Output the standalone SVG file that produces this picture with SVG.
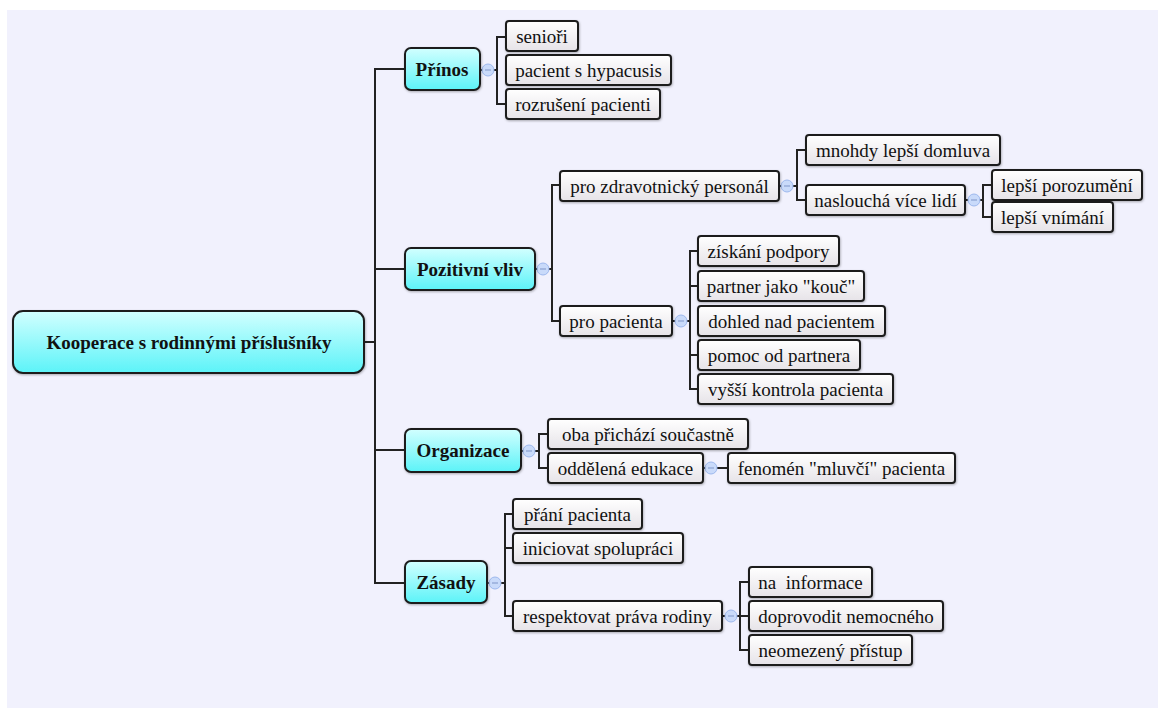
<svg xmlns="http://www.w3.org/2000/svg" width="1159" height="708" viewBox="0 0 1159 708">
  <defs>
    <linearGradient id="gCyan" x1="0" y1="0" x2="0" y2="1">
      <stop offset="0" stop-color="#d2ffff"/>
      <stop offset="1" stop-color="#5cf3f8"/>
    </linearGradient>
    <linearGradient id="gLeaf" x1="0" y1="0" x2="0" y2="1">
      <stop offset="0" stop-color="#ffffff"/>
      <stop offset="1" stop-color="#e6e3e8"/>
    </linearGradient>
    <filter id="sh" x="-10%" y="-20%" width="120%" height="150%">
      <feDropShadow dx="0.6" dy="1" stdDeviation="0.8" flood-color="#000" flood-opacity="0.3"/>
    </filter>
  </defs>
  <style>
    .root rect { fill: url(#gCyan); stroke: #1e1e1e; stroke-width: 2; filter: url(#sh); }
    .main rect { fill: url(#gCyan); stroke: #1e1e1e; stroke-width: 2; filter: url(#sh); }
    .leaf rect { fill: url(#gLeaf); stroke: #1e1e1e; stroke-width: 2; filter: url(#sh); }
    text { font-family: "Liberation Serif", "Times New Roman", serif; font-size: 19px; fill: #111; text-anchor: middle; }
    .root text, .main text { font-weight: bold; }
    .conn path { fill: none; stroke: #222; stroke-width: 2; }
    .tog circle { fill: #c9dafa; stroke: #9db8ee; stroke-width: 1; }
    .tog line { stroke: #7f95c8; stroke-width: 1; }
  </style>

  <!-- canvas -->
  <rect x="0" y="0" width="1159" height="708" fill="#ffffff"/>
  <rect x="7" y="10" width="1151" height="698" fill="#f1f1fd"/>

  <!-- connectors -->
  <g id="connectors" class="conn">
    <!-- root trunk -->
    <path d="M364 342 H375 M405 69 H375 V583 H405 M375 269 H405 M375 450 H405"/>
    <!-- Přínos -->
    <path d="M480 70 H497 M506 37 H497 V104 H506"/>
    <!-- Pozitivní vliv -->
    <path d="M535 269 H552 M560 185 H552 V321 H560"/>
    <!-- pro zdravotnický personál -->
    <path d="M779 186 H797 M806 150 H797 V200 H806"/>
    <!-- naslouchá více lidí -->
    <path d="M965 200 H983 M992 185 H983 V217 H992"/>
    <!-- pro pacienta -->
    <path d="M672 321 H690 M698 251 H690 V389 H698 M690 286 H698 M690 355 H698"/>
    <!-- Organizace -->
    <path d="M521 451 H539 M548 434 H539 V468 H548"/>
    <!-- oddělená edukace -->
    <path d="M703 468 H728"/>
    <!-- Zásady -->
    <path d="M487 583 H505 M513 514 H505 V616 H513 M505 548 H513"/>
    <!-- respektovat práva rodiny -->
    <path d="M722 616 H740 M749 582 H740 V650 H749 M740 616 H749"/>
  </g>

  <!-- collapse toggles -->
  <g id="toggles" class="tog">
    <g><circle cx="488" cy="70" r="6"/><line x1="485" y1="70" x2="491" y2="70"/></g>
    <g><circle cx="543" cy="269" r="6"/><line x1="540" y1="269" x2="546" y2="269"/></g>
    <g><circle cx="787" cy="186" r="6"/><line x1="784" y1="186" x2="790" y2="186"/></g>
    <g><circle cx="974" cy="200" r="6"/><line x1="971" y1="200" x2="977" y2="200"/></g>
    <g><circle cx="681" cy="321" r="6"/><line x1="678" y1="321" x2="684" y2="321"/></g>
    <g><circle cx="529" cy="451" r="6"/><line x1="526" y1="451" x2="532" y2="451"/></g>
    <g><circle cx="711" cy="468" r="6"/><line x1="708" y1="468" x2="714" y2="468"/></g>
    <g><circle cx="495" cy="583" r="6"/><line x1="492" y1="583" x2="498" y2="583"/></g>
    <g><circle cx="731" cy="616" r="6"/><line x1="728" y1="616" x2="734" y2="616"/></g>
  </g>

  <!-- root -->
  <g id="n-root" class="root">
    <rect x="13" y="311" width="351" height="62" rx="10"/>
    <text x="189" y="349">Kooperace s rodinnými příslušníky</text>
  </g>

  <!-- main topics -->
  <g id="n-prinos" class="main">
    <rect x="405" y="48" width="75" height="42" rx="6"/>
    <text x="442" y="76">Přínos</text>
  </g>
  <g id="n-pozitivni" class="main">
    <rect x="405" y="248" width="130" height="42" rx="6"/>
    <text x="470" y="276">Pozitivní vliv</text>
  </g>
  <g id="n-organizace" class="main">
    <rect x="405" y="429" width="116" height="43" rx="6"/>
    <text x="463" y="457">Organizace</text>
  </g>
  <g id="n-zasady" class="main">
    <rect x="405" y="561" width="82" height="42" rx="6"/>
    <text x="446" y="589">Zásady</text>
  </g>

  <!-- Přínos children -->
  <g id="n-seniori" class="leaf">
    <rect x="506" y="21" width="72" height="30" rx="3"/>
    <text x="542" y="43">senioři</text>
  </g>
  <g id="n-hypacusis" class="leaf">
    <rect x="506" y="55" width="165" height="30" rx="3"/>
    <text x="588.5" y="77">pacient s hypacusis</text>
  </g>
  <g id="n-rozruseni" class="leaf">
    <rect x="506" y="89" width="154" height="30" rx="3"/>
    <text x="583" y="111">rozrušení pacienti</text>
  </g>

  <!-- Pozitivní vliv children -->
  <g id="n-personal" class="leaf">
    <rect x="560" y="171" width="219" height="30" rx="3"/>
    <text x="669.5" y="193">pro zdravotnický personál</text>
  </g>
  <g id="n-domluva" class="leaf">
    <rect x="806" y="135" width="194" height="30" rx="3"/>
    <text x="903" y="157">mnohdy lepší domluva</text>
  </g>
  <g id="n-naslouch" class="leaf">
    <rect x="806" y="185" width="159" height="30" rx="3"/>
    <text x="885.5" y="207">naslouchá více lidí</text>
  </g>
  <g id="n-porozumeni" class="leaf">
    <rect x="992" y="170" width="150" height="30" rx="3"/>
    <text x="1067" y="192">lepší porozumění</text>
  </g>
  <g id="n-vnimani" class="leaf">
    <rect x="992" y="202" width="121" height="30" rx="3"/>
    <text x="1052.5" y="224">lepší vnímání</text>
  </g>
  <g id="n-propacienta" class="leaf">
    <rect x="560" y="306" width="112" height="30" rx="3"/>
    <text x="616" y="328">pro pacienta</text>
  </g>
  <g id="n-podpora" class="leaf">
    <rect x="698" y="236" width="141" height="30" rx="3"/>
    <text x="768.5" y="258">získání podpory</text>
  </g>
  <g id="n-kouc" class="leaf">
    <rect x="698" y="271" width="166" height="30" rx="3"/>
    <text x="781" y="293">partner jako "kouč"</text>
  </g>
  <g id="n-dohled" class="leaf">
    <rect x="698" y="306" width="187" height="30" rx="3"/>
    <text x="791.5" y="328">dohled nad pacientem</text>
  </g>
  <g id="n-pomoc" class="leaf">
    <rect x="698" y="340" width="162" height="30" rx="3"/>
    <text x="779" y="362">pomoc od partnera</text>
  </g>
  <g id="n-kontrola" class="leaf">
    <rect x="698" y="374" width="195" height="30" rx="3"/>
    <text x="795.5" y="396">vyšší kontrola pacienta</text>
  </g>

  <!-- Organizace children -->
  <g id="n-oba" class="leaf">
    <rect x="548" y="419" width="200" height="30" rx="3"/>
    <text x="648" y="441">oba přichází součastně</text>
  </g>
  <g id="n-oddelena" class="leaf">
    <rect x="548" y="453" width="155" height="30" rx="3"/>
    <text x="625.5" y="475">oddělená edukace</text>
  </g>
  <g id="n-fenomen" class="leaf">
    <rect x="728" y="453" width="227" height="30" rx="3"/>
    <text x="841.5" y="475">fenomén "mluvčí" pacienta</text>
  </g>

  <!-- Zásady children -->
  <g id="n-prani" class="leaf">
    <rect x="513" y="499" width="129" height="30" rx="3"/>
    <text x="577.5" y="521">přání pacienta</text>
  </g>
  <g id="n-iniciovat" class="leaf">
    <rect x="513" y="533" width="170" height="30" rx="3"/>
    <text x="598" y="555">iniciovat spolupráci</text>
  </g>
  <g id="n-respektovat" class="leaf">
    <rect x="513" y="601" width="209" height="30" rx="3"/>
    <text x="617.5" y="623">respektovat práva rodiny</text>
  </g>
  <g id="n-informace" class="leaf">
    <rect x="749" y="567" width="123" height="30" rx="3"/>
    <text x="810.5" y="589" xml:space="preserve">na  informace</text>
  </g>
  <g id="n-doprovodit" class="leaf">
    <rect x="749" y="601" width="194" height="30" rx="3"/>
    <text x="846" y="623">doprovodit nemocného</text>
  </g>
  <g id="n-pristup" class="leaf">
    <rect x="749" y="635" width="163" height="30" rx="3"/>
    <text x="830.5" y="657">neomezený přístup</text>
  </g>
</svg>
